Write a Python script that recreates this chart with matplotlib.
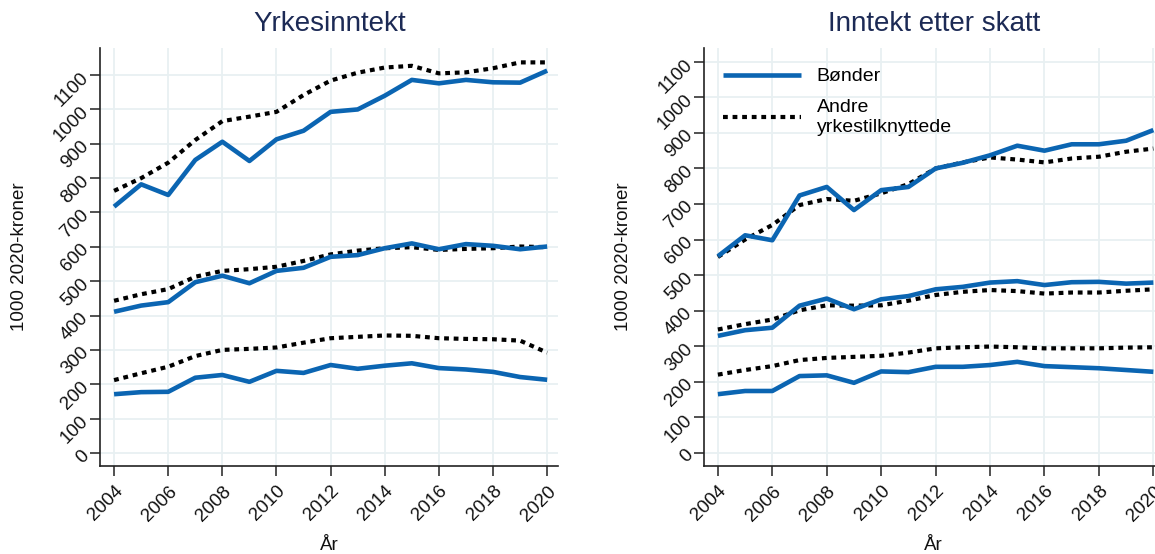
import matplotlib
matplotlib.use("Agg")
import matplotlib.pyplot as plt

plt.rcParams['font.family'] = ['Liberation Sans', 'DejaVu Sans']

years = list(range(2004, 2021))

# Yrkesinntekt (left panel)
yrk_bonder_top = [717, 782, 751, 853, 906, 850, 913, 938, 993, 1000, 1040, 1086, 1076, 1086, 1079, 1078, 1113]
yrk_andre_top = [763, 800, 845, 911, 966, 979, 993, 1042, 1084, 1107, 1122, 1127, 1105, 1108, 1120, 1137, 1137]
yrk_bonder_mid = [411, 429, 439, 497, 516, 494, 530, 539, 571, 576, 596, 610, 593, 608, 603, 593, 601]
yrk_andre_mid = [443, 462, 477, 513, 530, 535, 542, 559, 578, 589, 596, 599, 591, 594, 596, 601, 599]
yrk_bonder_low = [171, 177, 178, 219, 227, 207, 239, 233, 256, 245, 254, 261, 247, 243, 236, 221, 213]
yrk_andre_low = [212, 232, 251, 282, 300, 303, 307, 321, 334, 338, 342, 341, 334, 332, 331, 327, 292]

# Inntekt etter skatt (right panel)
skatt_bonder_top = [553, 612, 598, 724, 748, 683, 739, 748, 800, 816, 837, 864, 850, 868, 868, 878, 908]
skatt_andre_top = [551, 600, 641, 697, 714, 709, 730, 756, 800, 817, 831, 825, 817, 828, 833, 847, 856]
skatt_bonder_mid = [329, 345, 352, 414, 434, 404, 432, 441, 460, 467, 479, 483, 472, 480, 481, 476, 479]
skatt_andre_mid = [347, 362, 375, 401, 415, 414, 415, 428, 444, 453, 458, 455, 448, 451, 451, 456, 460]
skatt_bonder_low = [165, 174, 174, 216, 218, 197, 229, 227, 242, 242, 247, 256, 244, 241, 238, 233, 228]
skatt_andre_low = [220, 233, 244, 261, 267, 270, 273, 282, 294, 297, 299, 297, 294, 294, 294, 296, 297]

titles = ["Yrkesinntekt", "Inntekt etter skatt"]
legend_labels = ["Bønder", "Andre\nyrkestilknyttede"]
ylabel = "1000 2020-kroner"
xlabel = "År"
yticks = list(range(0, 1101, 100))
xticks = list(range(2004, 2021, 2))

BLUE = "#0b65b2"
BLACK = "#000000"
GRID = "#e8f0f2"
TITLE_C = "#1c2a55"
W, H = 1155, 554
FS = 13.5

fig = plt.figure(figsize=(W / 100, H / 100), dpi=100)
ax_h = 417.7 / H
ax1 = fig.add_axes([100 / W, (H - 466) / H, 458 / W, ax_h])
ax2 = fig.add_axes([704 / W, (H - 466) / H, 451 / W, ax_h])

dot = (0, (1.15, 1.15))

panels = [
    (ax1, [yrk_bonder_top, yrk_bonder_mid, yrk_bonder_low],
     [yrk_andre_top, yrk_andre_mid, yrk_andre_low], (-38, 1178), (2003.48, 2020.4), 458, 330),
    (ax2, [skatt_bonder_top, skatt_bonder_mid, skatt_bonder_low],
     [skatt_andre_top, skatt_andre_mid, skatt_andre_low], (-37, 1138), (2003.49, 2020.06), 451, 934),
]

for i, (ax, bonder, andre, ylim, xlim, wpx, tx) in enumerate(panels):
    for s in andre:
        la, = ax.plot(years, s, color=BLACK, lw=3.0, linestyle=dot,
                      dash_capstyle='butt', zorder=3)
    for s in bonder:
        lb, = ax.plot(years, s, color=BLUE, lw=3.3, solid_capstyle='butt',
                      solid_joinstyle='round', zorder=4)
    ax.set_ylim(*ylim)
    ax.set_xlim(*xlim)
    ax.set_yticks(yticks)
    ax.set_xticks(xticks)
    ax.grid(True, color=GRID, lw=1.3, zorder=0)
    ax.set_axisbelow(True)
    for sp in ['top', 'right']:
        ax.spines[sp].set_visible(False)
    for sp in ['left', 'bottom']:
        ax.spines[sp].set_color('#222222')
        ax.spines[sp].set_linewidth(1.2)
    ax.tick_params(axis='both', direction='out', length=7, width=1.2,
                   color='#333333', labelsize=FS, labelcolor='#111111')
    ax.tick_params(axis='x', pad=5)
    ax.tick_params(axis='y', pad=3)
    for lab in ax.get_xticklabels():
        lab.set_rotation(45)
        lab.set_ha('right')
        lab.set_va('top')
        lab.set_rotation_mode('anchor')
    for lab in ax.get_yticklabels():
        lab.set_rotation(45)
        lab.set_ha('right')
        lab.set_va('center')
        lab.set_rotation_mode('anchor')
    fig.text(tx / W, 1 - 24 / H, titles[i], fontsize=20, color=TITLE_C,
             ha='center', va='center')
    ax.set_ylabel(ylabel, fontsize=FS, color='#111111')
    ax.yaxis.set_label_coords(-72 / wpx, 0.5)
    ax.set_xlabel(xlabel, fontsize=FS, color='#111111')
    ax.xaxis.label.set_va('baseline')
    ax.xaxis.set_label_coords(0.5 if i == 0 else (933 - 704) / wpx, -(550 - 466) / 417.7)
    if i == 1:
        ax.legend([lb, la], legend_labels, loc='upper left',
                  bbox_to_anchor=(0.0, 1.0), frameon=False, fontsize=14,
                  handlelength=4.0, handletextpad=0.8, labelspacing=0.7,
                  borderaxespad=0.6)

fig.savefig("out.png", dpi=100)
